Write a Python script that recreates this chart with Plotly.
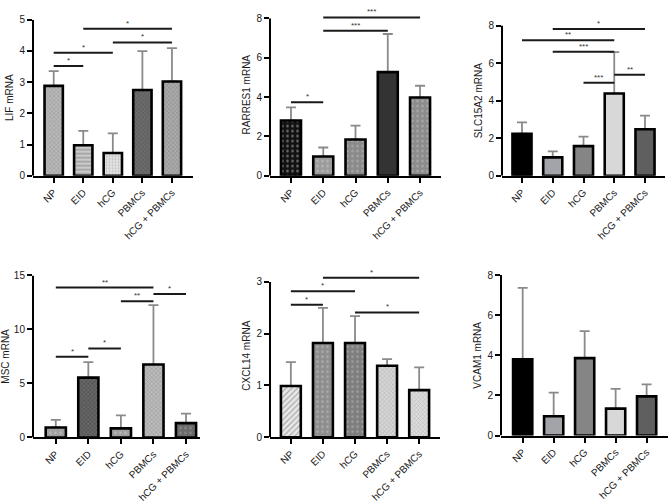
import plotly.graph_objects as go

categories = ["NP", "EID", "hCG", "PBMCs", "hCG + PBMCs"]

# ---- data (mean and top of error bar) ----
lif_mean = [2.88, 0.98, 0.73, 2.75, 3.02]
lif_upper = [3.35, 1.44, 1.36, 3.99, 4.09]
lif_sig = [(0, 1, 3.52, "*"), (0, 2, 3.94, "*"), (2, 4, 4.27, "*"), (1, 4, 4.71, "*")]

rarres1_mean = [2.81, 0.98, 1.85, 5.27, 3.98]
rarres1_upper = [3.48, 1.44, 2.55, 7.21, 4.58]
rarres1_sig = [(0, 1, 3.74, "*"), (1, 3, 7.38, "***"), (1, 4, 8.05, "***")]

slc15a2_mean = [2.24, 0.98, 1.58, 4.38, 2.48]
slc15a2_upper = [2.85, 1.3, 2.09, 6.58, 3.2]
slc15a2_sig = [(1, 4, 7.82, "*"), (0, 3, 7.22, "**"), (1, 3, 6.6, "***"),
               (2, 3, 4.95, "***"), (3, 4, 5.38, "**")]

msc_mean = [0.93, 5.54, 0.84, 6.75, 1.33]
msc_upper = [1.63, 6.98, 2.05, 12.25, 2.2]
msc_sig = [(0, 1, 7.47, "*"), (1, 2, 8.24, "*"), (0, 3, 13.88, "**"),
           (2, 3, 12.62, "**"), (3, 4, 13.28, "*")]

cxcl14_mean = [0.99, 1.82, 1.82, 1.38, 0.91]
cxcl14_upper = [1.45, 2.5, 2.34, 1.51, 1.35]
cxcl14_sig = [(0, 1, 2.56, "*"), (0, 2, 2.82, "*"), (1, 4, 3.08, "*"), (2, 4, 2.41, "*")]

vcam1_mean = [3.8, 0.96, 3.86, 1.34, 1.95]
vcam1_upper = [7.36, 2.14, 5.21, 2.33, 2.55]
vcam1_sig = []

y_titles = ["LIF mRNA", "RARRES1 mRNA", "SLC15A2 mRNA", "MSC mRNA", "CXCL14 mRNA", "VCAM1 mRNA"]
y_axis_top = [5, 8, 8, 15, 3, 8]          # last labelled tick / top of the drawn axis line
y_range_top = [5, 8.25, 8, 15, 3.15, 8]   # room for brackets drawn above the axis
y_dtick = [1, 2, 2, 5, 1, 2]

# ---- styles ----
def pat(bg, fg, shape=".", size=4, sol=0.3):
    return dict(bg=bg, fg=fg, shape=shape, size=size, sol=sol)

solid_cols = ["#000000", "#a3a3aa", "#858585", "#d8d8d8", "#5f5f5f"]
styles = [
    [pat("#b8b8b8", "#707070", "x", 3, 0.3), pat("#cacaca", "#6a6a6a", "-", 4, 0.35),
     pat("#e4e4e4", "#9a9a9a", ".", 3, 0.35),
     pat("#6c6c6c", "#3a3a3a", "x", 3, 0.3), pat("#ababab", "#5e5e5e", "x", 3, 0.3)],
    [pat("#111111", "#d8d8d8", ".", 5, 0.2), pat("#9c9c9c", "#d4d4d4", ".", 5, 0.2),
     pat("#8a8a8a", "#c8c8c8", ".", 5, 0.2), pat("#333333", "#333333", "", 5, 0.2),
     pat("#8c8c8c", "#c8c8c8", ".", 5, 0.2)],
    [pat(c, c, "") for c in solid_cols],
    [pat("#a0a0a0", "#d8d8d8", ".", 5, 0.2), pat("#585858", "#9e9e9e", "x", 3, 0.3),
     pat("#a0a0a0", "#d8d8d8", ".", 5, 0.2), pat("#bcbcbc", "#6a6a6a", "x", 3, 0.3),
     pat("#6a6a6a", "#acacac", ".", 5, 0.2)],
    [pat("#e8e8e8", "#6a6a6a", "/", 4, 0.3), pat("#8e8e8e", "#cacaca", ".", 5, 0.2),
     pat("#7e7e7e", "#bebebe", ".", 5, 0.2), pat("#d6d6d6", "#8a8a8a", "x", 3, 0.3),
     pat("#dcdcdc", "#8e8e8e", "x", 3, 0.3)],
    [pat(c, c, "") for c in solid_cols],
]

x_domains = [[0.0494, 0.2884], [0.4042, 0.6602], [0.7515, 0.9955],
             [0.0494, 0.2994], [0.4042, 0.6587], [0.7500, 1.0]]
x_ranges = [[-0.7, 4.7], [-0.65, 4.65], [-0.65, 4.65], [-0.7, 4.43], [-0.65, 4.65], [-0.7, 4.69]]
y_domains = [[0.6548, 0.9722], [0.6548, 0.9847], [0.6548, 0.9603],
             [0.1230, 0.4524], [0.1236, 0.4549], [0.1270, 0.4530]]

means = [lif_mean, rarres1_mean, slc15a2_mean, msc_mean, cxcl14_mean, vcam1_mean]
uppers = [lif_upper, rarres1_upper, slc15a2_upper, msc_upper, cxcl14_upper, vcam1_upper]
sigs = [lif_sig, rarres1_sig, slc15a2_sig, msc_sig, cxcl14_sig, vcam1_sig]

FONT = "Arial, Liberation Sans, sans-serif"
TXT = "#1a1a1a"
fig = go.Figure()
annotations = []
shapes = []
xpos = list(range(len(categories)))

for p in range(6):
    xa = "x" if p == 0 else f"x{p+1}"
    ya = "y" if p == 0 else f"y{p+1}"
    err = [u - m for u, m in zip(uppers[p], means[p])]
    st = styles[p]
    colors = [s["bg"] for s in st]
    # error bars (bars themselves transparent)
    fig.add_trace(go.Bar(
        x=xpos, y=means[p], xaxis=xa, yaxis=ya, width=0.62,
        marker=dict(color="rgba(0,0,0,0)", line=dict(width=0)),
        error_y=dict(type="data", symmetric=False, array=err, arrayminus=[0] * 5,
                     color="#8a8a8a", thickness=1.8, width=5),
        showlegend=False, hoverinfo="skip",
    ))
    # textured bars on top (cover lower caps of error bars)
    for k in range(len(categories)):
        s = st[k]
        mk = dict(color=s["bg"], line=dict(color="black", width=2.6))
        if s["shape"]:
            mk["pattern"] = dict(shape=s["shape"], fgcolor=s["fg"], bgcolor=s["bg"],
                                 size=s["size"], solidity=s["sol"], fillmode="overlay")
        fig.add_trace(go.Bar(
            x=[xpos[k]], y=[means[p][k]], xaxis=xa, yaxis=ya, width=0.62,
            marker=mk, showlegend=False, hoverinfo="skip",
        ))
    for (i, j, h, lab) in sigs[p]:
        shapes.append(dict(type="line", xref=xa, yref=ya, x0=i, x1=j, y0=h, y1=h,
                           line=dict(color="#1a1a1a", width=2)))
        annotations.append(dict(
            x=(i + j) / 2, y=h, xref=xa, yref=ya, text=lab, showarrow=False,
            yanchor="bottom", yshift=-1, font=dict(size=8, color="#333", family=FONT),
        ))
    # y-axis line drawn only up to the top tick
    shapes.append(dict(type="line", xref=f"{xa} domain", yref=ya, x0=0, x1=0,
                       y0=0, y1=y_axis_top[p], line=dict(color="black", width=2)))

layout = dict(
    width=668, height=504, margin=dict(l=0, r=0, t=0, b=0),
    paper_bgcolor="white", plot_bgcolor="white", barmode="overlay",
    font=dict(family=FONT, color=TXT, size=10),
    annotations=annotations, shapes=shapes,
)
for p in range(6):
    xk = "xaxis" if p == 0 else f"xaxis{p+1}"
    yk = "yaxis" if p == 0 else f"yaxis{p+1}"
    xa = "x" if p == 0 else f"x{p+1}"
    ya = "y" if p == 0 else f"y{p+1}"
    layout[xk] = dict(
        domain=x_domains[p], anchor=ya, range=x_ranges[p],
        tickmode="array", tickvals=xpos, ticktext=categories, tickangle=-45,
        showline=True, linecolor="black", linewidth=2, ticks="outside",
        ticklen=5, tickwidth=1.8, tickcolor="black", showgrid=False, zeroline=False,
        tickfont=dict(size=10, family=FONT, color=TXT),
    )
    layout[yk] = dict(
        domain=y_domains[p], anchor=xa, range=[0, y_range_top[p]], dtick=y_dtick[p], tick0=0,
        showline=False, ticks="outside",
        ticklen=5, tickwidth=1.8, tickcolor="black", showgrid=False, zeroline=False,
        tickfont=dict(size=10, family=FONT, color=TXT),
        title=dict(text=y_titles[p], font=dict(size=10, family=FONT, color=TXT), standoff=3),
    )

fig.update_layout(**layout)
fig.write_html("out.html", config={"displayModeBar": False},
               post_script="document.body.style.margin='0';")
